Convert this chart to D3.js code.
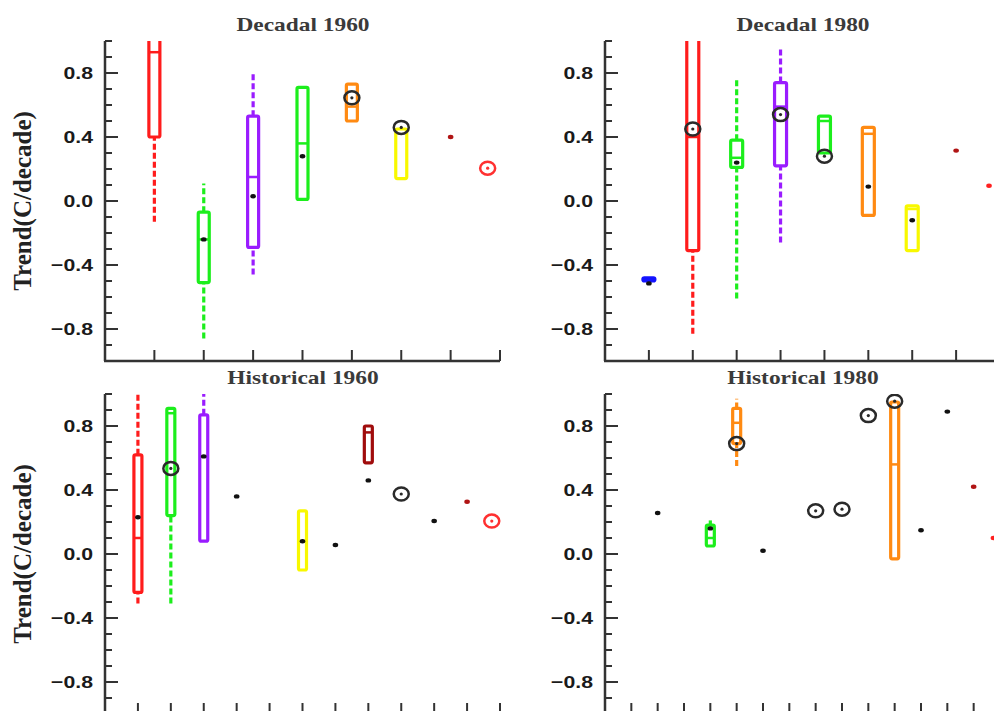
<!DOCTYPE html>
<html>
<head>
<meta charset="utf-8">
<script src="https://d3js.org/d3.v7.min.js"></script>
<style>
  body { margin: 0; background: #fff; }
  svg { display: block; }
</style>
</head>
<body>
<svg id="chart" width="994" height="711"></svg>
<script>
// Rows: [slot, colour, whiskerLo, q1, median, q3, whiskerHi, marker, markerKind]
const dec1960 = [
    [1, "red", -0.13, 0.40, 0.93, 1.05, null, null, null],
    [2, "green", -0.86, -0.51, -0.24, -0.07, 0.11, -0.24, "dot"],
    [3, "purple", -0.46, -0.29, 0.15, 0.53, 0.81, 0.03, "dot"],
    [4, "green", null, 0.01, 0.36, 0.71, null, 0.28, "dot"],
    [5, "orange", null, 0.50, 0.59, 0.73, null, 0.645, "ring"],
    [6, "yellow", null, 0.14, null, 0.45, null, 0.46, "ring"],
    [7, null, null, null, null, null, null, 0.40, "darkdot"],
    [7.75, null, null, null, null, null, null, 0.205, "redring"]
];

const dec1980 = [
    [1, "blue", null, -0.50, -0.49, -0.48, null, -0.515, "dot"],
    [2, "red", -0.83, -0.31, 0.40, 1.05, null, 0.45, "ring"],
    [3, "green", -0.61, 0.21, 0.27, 0.38, 0.77, 0.24, "dot"],
    [4, "purple", -0.26, 0.22, 0.59, 0.74, 0.95, 0.54, "ring"],
    [5, "green", null, 0.30, 0.50, 0.53, null, 0.28, "ring"],
    [6, "orange", null, -0.09, 0.42, 0.46, null, 0.09, "dot"],
    [7, "yellow", null, -0.31, -0.05, -0.03, null, -0.12, "dot"],
    [8, null, null, null, null, null, null, 0.315, "darkdot"],
    [8.75, null, null, null, null, null, null, 0.095, "reddot"]
];

const his1960 = [
    [1, "red", -0.31, -0.24, 0.10, 0.62, 1.00, 0.23, "dot"],
    [2, "green", -0.31, 0.24, 0.88, 0.91, null, 0.535, "ring"],
    [3, "purple", null, 0.08, 0.61, 0.87, 1.00, 0.61, "dot"],
    [4, null, null, null, null, null, null, 0.36, "dot"],
    [6, "yellow", null, -0.10, 0.08, 0.27, null, 0.08, "dot"],
    [7, null, null, null, null, null, null, 0.056, "dot"],
    [8, "darkred", null, 0.57, 0.76, 0.80, null, 0.46, "dot"],
    [9, null, null, null, null, null, null, 0.375, "ring"],
    [10, null, null, null, null, null, null, 0.206, "dot"],
    [11, null, null, null, null, null, null, 0.327, "darkdot"],
    [11.75, null, null, null, null, null, null, 0.206, "redring"]
];

const his1980 = [
    [2, null, null, null, null, null, null, 0.256, "dot"],
    [4, "green", null, 0.05, 0.10, 0.18, 0.21, 0.16, "dot"],
    [5, "orange", 0.55, 0.69, 0.82, 0.91, 0.97, 0.69, "ring"],
    [6, null, null, null, null, null, null, 0.02, "dot"],
    [8, null, null, null, null, null, null, 0.27, "ring"],
    [9, null, null, null, null, null, null, 0.28, "ring"],
    [10, null, null, null, null, null, null, 0.865, "ring"],
    [11, "orange", null, -0.03, 0.56, 0.95, null, 0.955, "ring"],
    [12, null, null, null, null, null, null, 0.148, "dot"],
    [13, null, null, null, null, null, null, 0.89, "dot"],
    [14, null, null, null, null, null, null, 0.42, "darkdot"],
    [14.75, null, null, null, null, null, null, 0.10, "reddot"]
];

const majorTicks = [-0.8, -0.4, 0.0, 0.4, 0.8];
const minorTicks = [-1.0, -0.9, -0.7, -0.6, -0.5, -0.3, -0.2, -0.1, 0.1, 0.2, 0.3, 0.5, 0.6, 0.7, 0.9, 1.0];

const colours = {
    red: "#ff1c1c", green: "#1cee1c", purple: "#9a1cff", orange: "#ff8a12",
    yellow: "#f8f800", darkred: "#a00c0c", blue: "#1414ff"
};

const panels = [
    { title: "Decadal 1960", rows: dec1960, left: 105, top: 41, slots: 8, boxW: 14 },
    { title: "Decadal 1980", rows: dec1980, left: 605, top: 41, slots: 9, boxW: 15 },
    { title: "Historical 1960", rows: his1960, left: 105, top: 394, slots: 12, boxW: 11 },
    { title: "Historical 1980", rows: his1980, left: 605, top: 394, slots: 15, boxW: 11 }
];

const plotW = 395, plotH = 320;
const svg = d3.select("#chart");
const fmt = v => (v < 0 ? "\u2212" : "") + Math.abs(v).toFixed(1);

panels.forEach((p, i) => {
    const x = d3.scaleLinear().domain([0, p.slots]).range([p.left, p.left + plotW]);
    const y = d3.scaleLinear().domain([-1, 1]).range([p.top + plotH, p.top]);
    const g = svg.append("g");

    // clip boxes that run past the top of the plot
    svg.append("clipPath").attr("id", "clip" + i)
        .append("rect")
        .attr("x", p.left).attr("y", y(1))
        .attr("width", plotW + 20).attr("height", plotH);

    const marks = g.append("g").attr("clip-path", `url(#clip${i})`);
    const boxes = p.rows.filter(r => r[1]);

    // whiskers (dashed)
    boxes.forEach(r => {
        const c = colours[r[1]];
        if (r[2] !== null) {
            marks.append("line")
                .attr("x1", x(r[0])).attr("x2", x(r[0]))
                .attr("y1", y(r[2])).attr("y2", y(r[3]))
                .attr("stroke", c).attr("stroke-width", 3.2)
                .attr("stroke-dasharray", "6,3");
        }
        if (r[6] !== null) {
            marks.append("line")
                .attr("x1", x(r[0])).attr("x2", x(r[0]))
                .attr("y1", y(r[5])).attr("y2", y(r[6]))
                .attr("stroke", c).attr("stroke-width", 3.2)
                .attr("stroke-dasharray", "6,3");
        }
    });

    // boxes
    marks.selectAll("rect.box")
        .data(boxes)
        .enter()
        .append("rect")
        .attr("class", "box")
        .attr("x", d => x(d[0]) - (p.boxW - 3) / 2)
        .attr("y", d => y(d[5]))
        .attr("width", p.boxW - 3)
        .attr("height", d => y(d[3]) - y(d[5]))
        .attr("rx", 1.5)
        .attr("fill", "none")
        .attr("stroke", d => colours[d[1]])
        .attr("stroke-width", 3.2);

    // medians
    marks.selectAll("line.med")
        .data(boxes.filter(d => d[4] !== null))
        .enter()
        .append("line")
        .attr("x1", d => x(d[0]) - (p.boxW - 3) / 2)
        .attr("x2", d => x(d[0]) + (p.boxW - 3) / 2)
        .attr("y1", d => y(d[4]))
        .attr("y2", d => y(d[4]))
        .attr("stroke", d => colours[d[1]])
        .attr("stroke-width", 2.5);

    // markers
    p.rows.filter(r => r[7] !== null).forEach(r => {
        const cx = x(r[0]), cy = y(r[7]);
        const kind = r[8];
        if (kind === "ring" || kind === "redring") {
            const c = kind === "ring" ? "#2a2a2a" : "#ff3030";
            marks.append("ellipse")
                .attr("cx", cx).attr("cy", cy).attr("rx", 7.5).attr("ry", 6.5)
                .attr("fill", "none").attr("stroke", c).attr("stroke-width", 2.5);
            marks.append("circle")
                .attr("cx", cx).attr("cy", cy).attr("r", 1.6).attr("fill", c);
        } else {
            const c = kind === "dot" ? "#111" : kind === "darkdot" ? "#b01414" : "#ff2020";
            marks.append("ellipse")
                .attr("cx", cx).attr("cy", cy).attr("rx", 2.8).attr("ry", 2.2)
                .attr("fill", c);
        }
    });

    // y axis with inward major and minor ticks
    g.append("line")
        .attr("x1", p.left).attr("x2", p.left)
        .attr("y1", y(1)).attr("y2", y(-1))
        .attr("stroke", "#333").attr("stroke-width", 2.5);
    g.selectAll("line.major")
        .data(majorTicks)
        .enter()
        .append("line")
        .attr("x1", p.left).attr("x2", p.left + 13)
        .attr("y1", d => y(d)).attr("y2", d => y(d))
        .attr("stroke", "#333").attr("stroke-width", 2);
    g.selectAll("line.minor")
        .data(minorTicks)
        .enter()
        .append("line")
        .attr("x1", p.left).attr("x2", p.left + 7)
        .attr("y1", d => y(d)).attr("y2", d => y(d))
        .attr("stroke", "#333").attr("stroke-width", 2);
    g.selectAll("text.tick")
        .data(majorTicks)
        .enter()
        .append("text")
        .attr("transform", d => `translate(${p.left - 12},${y(d)}) scale(1.25,1)`)
        .attr("text-anchor", "end")
        .attr("dy", "0.36em")
        .style("font-family", "'Liberation Sans', Arial, sans-serif")
        .style("font-weight", "bold")
        .style("font-size", "17px")
        .attr("fill", "#1a1a1a")
        .text(fmt);

    // x axis with category ticks
    g.append("line")
        .attr("x1", p.left - 1).attr("x2", p.left + plotW)
        .attr("y1", y(-1)).attr("y2", y(-1))
        .attr("stroke", "#333").attr("stroke-width", 2.5);
    g.selectAll("line.xt")
        .data(d3.range(1, p.slots + 1))
        .enter()
        .append("line")
        .attr("x1", d => x(d)).attr("x2", d => x(d))
        .attr("y1", y(-1)).attr("y2", y(-1) - 11)
        .attr("stroke", "#333").attr("stroke-width", 2);

    // title
    g.append("text")
        .attr("transform", `translate(${p.left + 198},${p.top - 10}) scale(1.3,1)`)
        .attr("text-anchor", "middle")
        .style("font-family", "'Liberation Serif', 'Times New Roman', serif")
        .style("font-weight", "bold")
        .style("font-size", "18px")
        .attr("fill", "#3a3a3a")
        .text(p.title);

    // y label on the left panels only
    if (p.left < 300) {
        g.append("text")
            .attr("transform", `translate(31,${y(0)}) rotate(-90)`)
            .attr("text-anchor", "middle")
            .style("font-family", "'Liberation Serif', 'Times New Roman', serif")
            .style("font-weight", "bold")
            .style("font-size", "25px")
            .attr("fill", "#222")
            .text("Trend(C/decade)");
    }
});
</script>
</body>
</html>
